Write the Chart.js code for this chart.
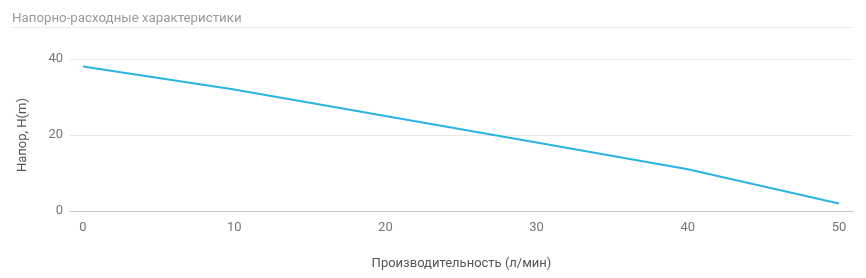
<!DOCTYPE html>
<html lang="ru">
<head>
    <meta charset="UTF-8">
    <title>Напорно-расходные характеристики</title>
    <script src="https://cdn.jsdelivr.net/npm/chart.js"></script>
    <style>
        body {
            margin: 0;
            padding: 0;
            background: #ffffff;
            font-family: Roboto, Arial, sans-serif;
        }
        .wrap {
            position: relative;
            width: 866px;
            height: 278px;
        }
        .title {
            position: absolute;
            left: 10px;
            top: 0;
            width: 843px;
            height: 28px;
            line-height: 36px;
            font-size: 13.3px;
            color: #9a9a9a;
            border-bottom: 1px solid #ececec;
            box-sizing: border-box;
            padding-left: 2px;
        }
        .chart-box {
            position: absolute;
            left: 0;
            top: 0;
            width: 866px;
            height: 278px;
        }
    </style>
</head>
<body>

<div class="wrap">
    <div class="chart-box"><canvas id="pumpChart"></canvas></div>
    <div class="title">Напорно-расходные характеристики</div>
</div>

<script>
    // flow rate, l/min
    const flow = [0, 10, 20, 30, 40, 50];
    // head, m
    const head = [38, 32, 25, 18, 11, 2];
    const xTicks = [0, 10, 20, 30, 40, 50];
    const yTicks = [0, 20, 40];

    const points = flow.map((f, i) => ({ x: f, y: head[i] }));

    new Chart(document.getElementById('pumpChart'), {
        type: 'line',
        data: {
            datasets: [{
                label: 'Напор',
                data: points,
                borderColor: '#2ab4e2',
                borderWidth: 2,
                pointRadius: 0,
                tension: 0,
                fill: false
            }]
        },
        options: {
            responsive: true,
            maintainAspectRatio: false,
            animation: false,
            layout: { padding: { top: 59, right: 13, left: 0, bottom: 0 } },
            plugins: {
                legend: { display: false },
                tooltip: { enabled: false }
            },
            scales: {
                x: {
                    type: 'linear',
                    min: -0.86,
                    max: 50.93,
                    afterBuildTicks: s => { s.ticks = xTicks.map(v => ({ value: v })); },
                    afterFit: s => { s.height = 67; },
                    grid: { display: false, drawTicks: false },
                    border: { display: true, color: '#c8c8c8', width: 1 },
                    ticks: {
                        padding: 9,
                        color: '#777777',
                        font: { family: 'Roboto', size: 13 }
                    },
                    title: {
                        display: true,
                        text: 'Производительность (л/мин)',
                        color: '#555555',
                        font: { family: 'Roboto', size: 13 },
                        padding: { top: 0, bottom: 6 }
                    }
                },
                y: {
                    min: 0,
                    max: 40,
                    afterBuildTicks: s => { s.ticks = yTicks.map(v => ({ value: v })); },
                    afterFit: s => { s.width = 70; },
                    grid: { color: '#e6e6e6', drawTicks: false },
                    border: { display: false },
                    ticks: {
                        padding: 7,
                        color: '#777777',
                        font: { family: 'Roboto', size: 13 }
                    },
                    title: {
                        display: true,
                        text: 'Напор, H(m)',
                        color: '#555555',
                        font: { family: 'Roboto', size: 13 },
                        padding: { top: 15, bottom: 0 }
                    }
                }
            }
        }
    });
</script>

</body>
</html>
